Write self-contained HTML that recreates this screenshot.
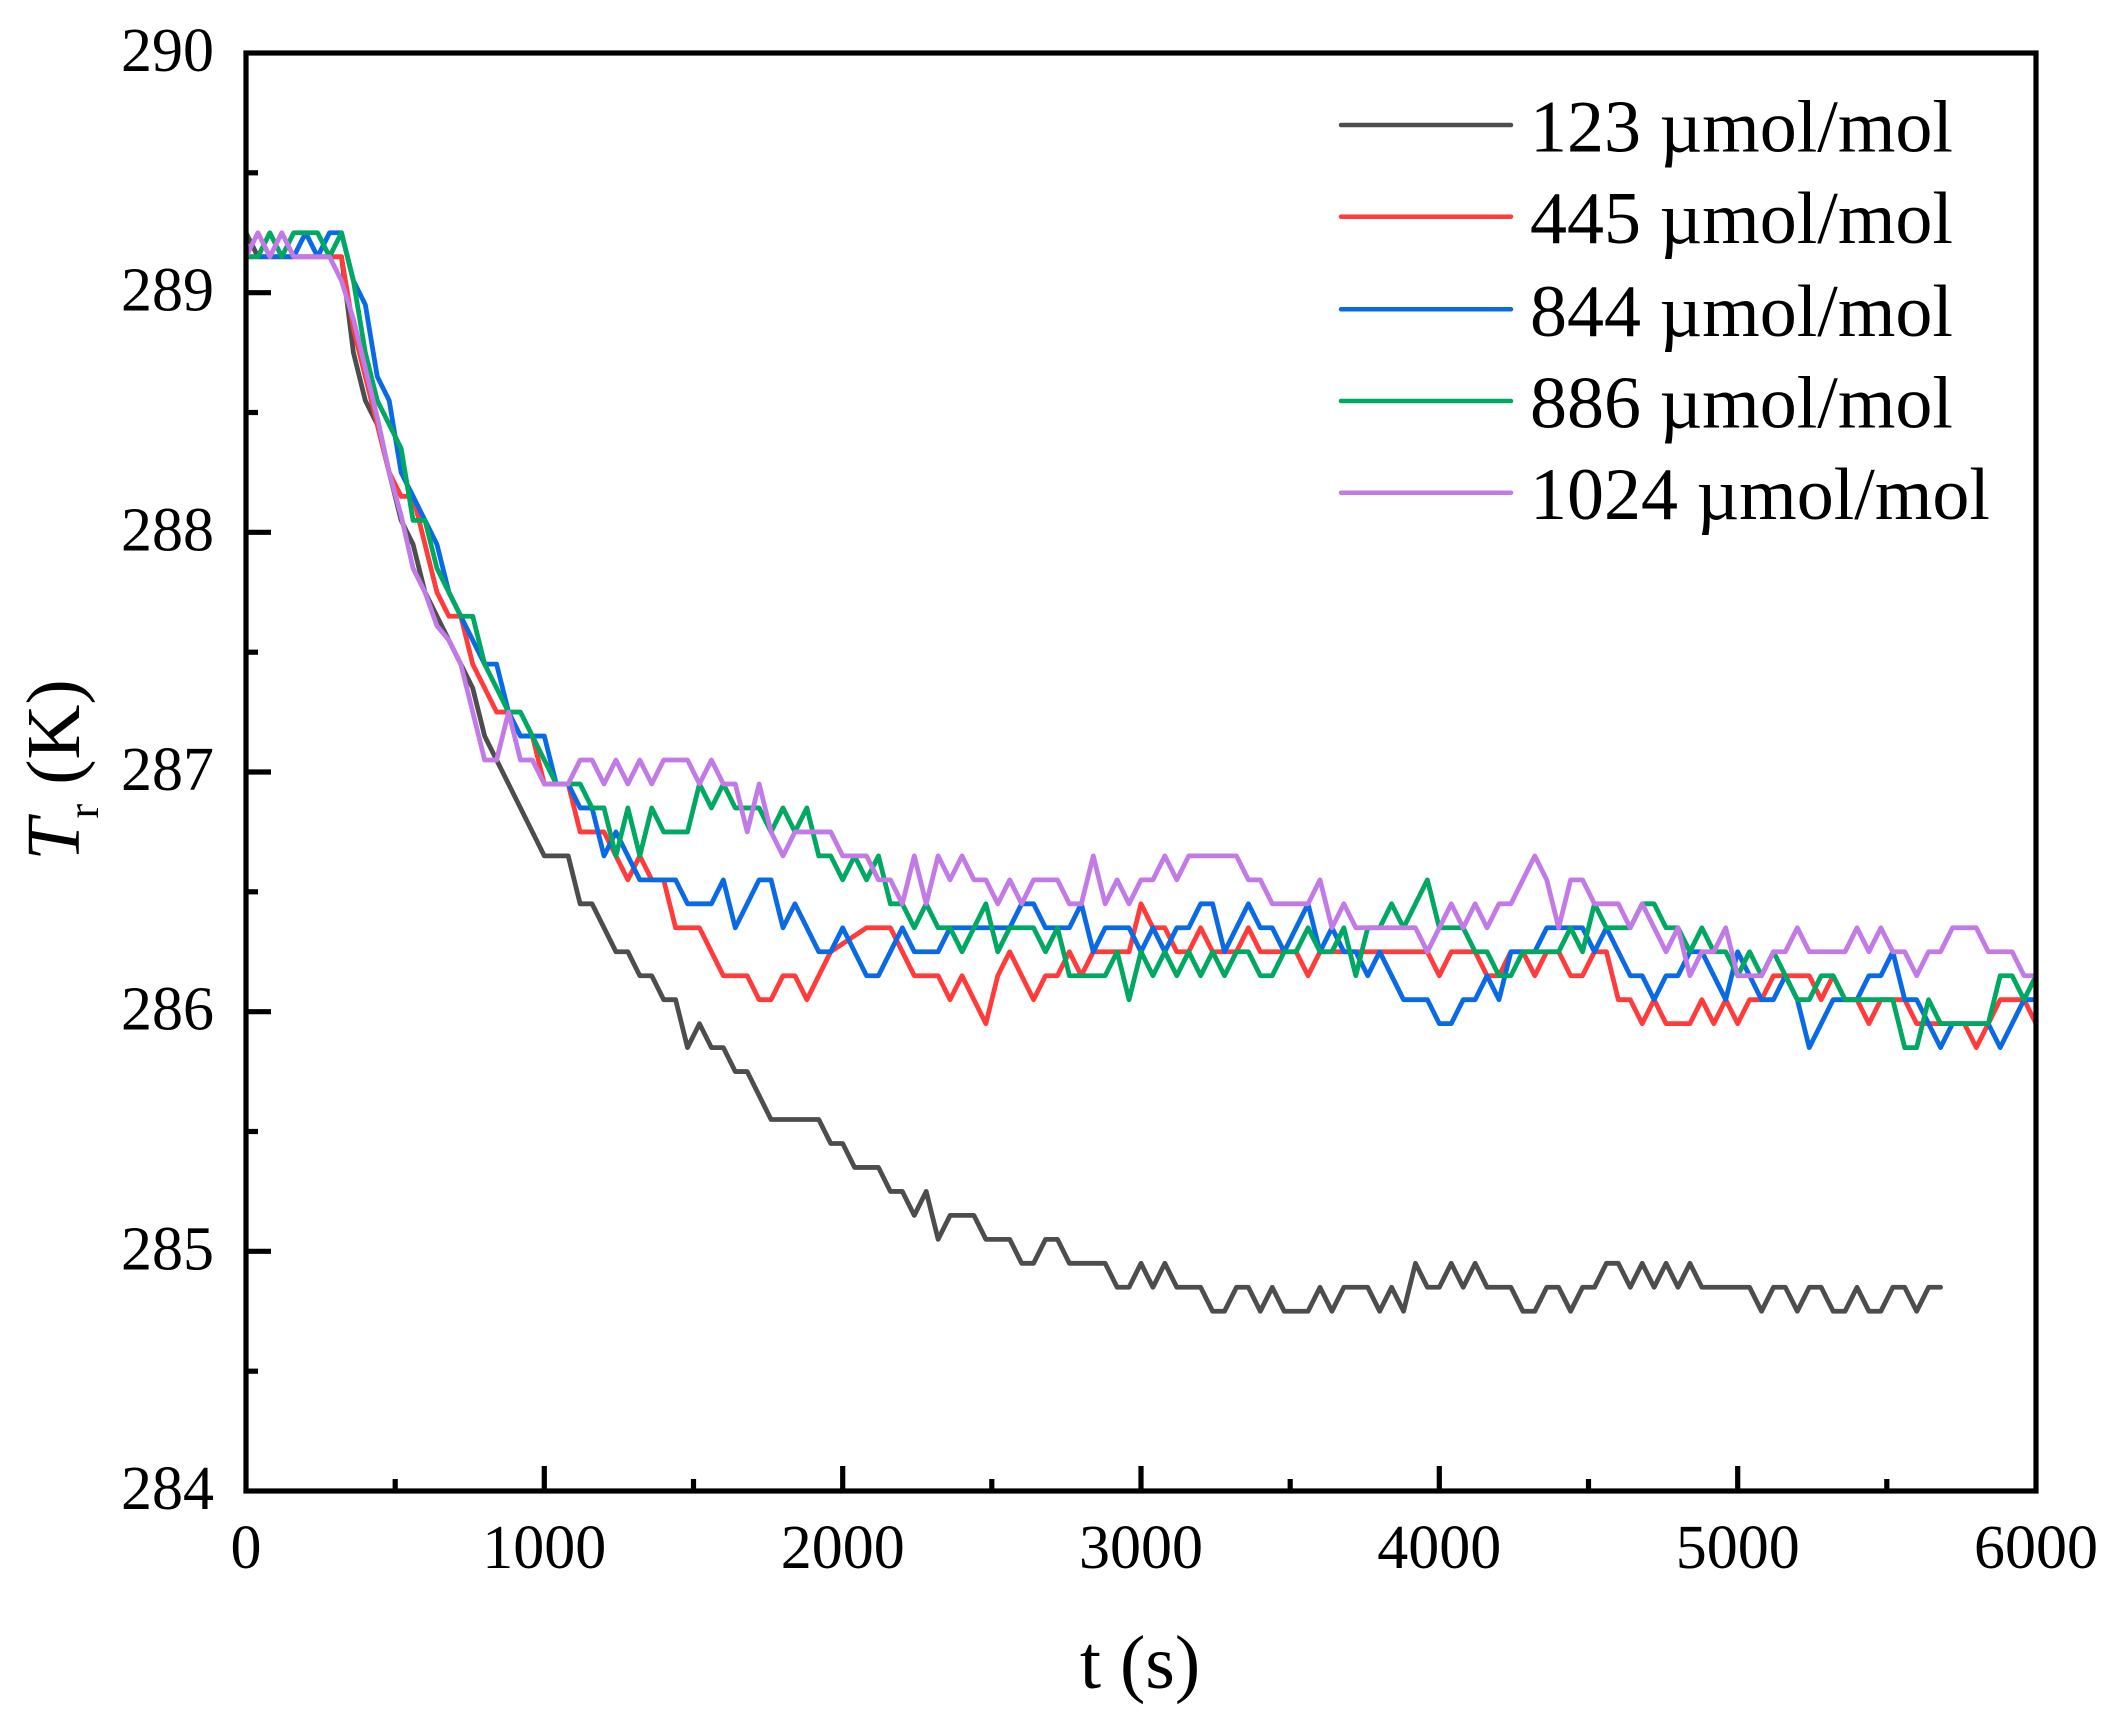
<!DOCTYPE html>
<html>
<head>
<meta charset="utf-8">
<style>
  html,body{margin:0;padding:0;background:#fff;}
  svg{display:block;}
  text{font-family:"Liberation Serif","Times New Roman",serif;fill:#000;}
</style>
</head>
<body>
<svg width="2116" height="1732" viewBox="0 0 2116 1732" xmlns="http://www.w3.org/2000/svg">
  <rect x="0" y="0" width="2116" height="1732" fill="#fff"/>
  <defs>
    <clipPath id="c"><rect x="246" y="53" width="1790" height="1438"/></clipPath>
  </defs>

  <!-- data series -->
  <g clip-path="url(#c)" fill="none" stroke-width="4.8" stroke-linejoin="round" stroke-linecap="round">
    <g transform="matrix(0.298333 0 0 -2.39667 246 1491)">
      <polyline vector-effect="non-scaling-stroke" stroke="#4d4d4d" points="0,525 40,515 320,515 360,475 400,455 440,445 480,425 520,405 560,395 600,375 640,365 680,355 720,345 760,335 800,315 840,305 1000,265 1080,265 1120,245 1160,245 1240,225 1280,225 1320,215 1360,215 1400,205 1440,205 1480,185 1520,195 1560,185 1600,185 1640,175 1680,175 1760,155 1920,155 1960,145 2000,145 2040,135 2120,135 2160,125 2200,125 2240,115 2280,125 2320,105 2360,115 2440,115 2480,105 2560,105 2600,95 2640,95 2680,105 2720,105 2760,95 2880,95 2920,85 2960,85 3000,95 3040,85 3080,95 3120,85 3200,85 3240,75 3280,75 3320,85 3360,85 3400,75 3440,85 3480,75 3560,75 3600,85 3640,75 3680,85 3760,85 3800,75 3840,85 3880,75 3920,95 3960,85 4000,85 4040,95 4080,85 4120,95 4160,85 4240,85 4280,75 4320,75 4360,85 4400,85 4440,75 4480,85 4520,85 4560,95 4600,95 4640,85 4680,95 4720,85 4760,95 4800,85 4840,95 4880,85 5040,85 5080,75 5120,85 5160,85 5200,75 5240,85 5280,85 5320,75 5360,75 5400,85 5440,75 5480,75 5520,85 5560,85 5600,75 5640,85 5680,85"/>
      <polyline vector-effect="non-scaling-stroke" stroke="#ff3b3b" points="0,515 320,515 360,485 400,465 440,445 480,425 520,415 560,415 600,395 640,375 680,365 720,365 760,345 800,335 840,325 880,325 920,315 960,315 1000,295 1080,295 1120,275 1200,275 1240,265 1280,255 1320,265 1360,255 1400,255 1440,235 1520,235 1560,225 1600,215 1680,215 1720,205 1760,205 1800,215 1840,215 1880,205 1920,215 1960,225 2080,235 2160,235 2200,225 2240,215 2320,215 2360,205 2400,215 2440,205 2480,195 2520,215 2560,225 2600,215 2640,205 2680,215 2720,215 2760,225 2800,215 2840,225 2960,225 3000,245 3040,235 3080,235 3120,225 3160,225 3200,235 3240,225 3320,225 3360,235 3400,225 3480,225 3520,225 3560,215 3600,225 3960,225 4000,215 4040,225 4120,225 4160,215 4200,215 4240,225 4280,225 4320,215 4360,225 4400,225 4440,215 4480,215 4520,225 4560,225 4600,205 4640,205 4680,195 4720,205 4760,195 4840,195 4880,205 4920,195 4960,205 5000,195 5040,205 5080,205 5120,215 5240,215 5280,205 5320,215 5360,205 5400,205 5440,195 5480,205 5560,205 5600,195 5760,195 5800,185 5840,195 5880,205 5960,205 6000,195"/>
      <polyline vector-effect="non-scaling-stroke" stroke="#0a6ae6" points="0,515 160,515 200,525 240,515 280,525 320,525 360,505 400,495 440,465 480,455 520,425 560,415 600,405 640,395 680,375 720,365 760,355 800,345 840,345 880,325 920,315 1000,315 1040,295 1080,295 1120,285 1160,285 1200,265 1240,275 1280,265 1320,255 1440,255 1480,245 1560,245 1600,255 1640,235 1720,255 1760,255 1800,235 1840,245 1920,225 1960,225 2000,235 2080,215 2120,215 2200,235 2240,225 2320,225 2360,235 2560,235 2600,245 2640,245 2680,235 2760,235 2800,245 2840,225 2880,235 2960,235 3000,225 3040,235 3080,225 3120,235 3160,235 3200,245 3240,245 3280,225 3320,235 3360,245 3400,235 3440,235 3480,225 3560,245 3600,225 3640,235 3680,225 3720,225 3760,215 3800,225 3880,205 3960,205 4000,195 4040,195 4080,205 4120,205 4160,215 4200,205 4240,225 4320,225 4360,235 4480,235 4520,225 4560,235 4640,215 4680,215 4720,205 4760,215 4800,215 4840,225 4880,225 4960,205 5000,225 5040,215 5080,205 5120,205 5160,215 5200,205 5240,185 5280,195 5320,205 5400,205 5440,215 5480,215 5520,225 5560,205 5600,205 5640,195 5680,185 5720,195 5840,195 5880,185 5920,195 5960,205 6000,205"/>
      <polyline vector-effect="non-scaling-stroke" stroke="#00a862" points="0,515 40,515 80,525 120,515 160,525 240,525 280,515 320,525 360,505 400,475 440,455 480,445 520,435 560,405 600,405 640,385 680,375 720,365 760,365 800,345 840,335 880,325 920,325 960,315 1000,305 1040,295 1120,295 1160,285 1200,285 1240,265 1280,285 1320,265 1360,285 1400,275 1480,275 1520,295 1560,285 1600,295 1640,285 1720,285 1760,275 1800,285 1840,275 1880,285 1920,265 1960,265 2000,255 2040,265 2080,255 2120,265 2160,245 2200,245 2240,235 2280,245 2320,235 2360,235 2400,225 2440,235 2480,245 2520,225 2560,235 2640,235 2680,225 2720,235 2760,215 2880,215 2920,225 2960,205 3000,225 3040,215 3080,225 3120,215 3160,225 3200,215 3240,225 3280,215 3320,225 3360,225 3400,215 3440,215 3480,225 3520,225 3560,235 3600,225 3640,225 3680,235 3720,215 3760,235 3800,235 3840,245 3880,235 3920,245 3960,255 4000,235 4080,235 4120,225 4160,225 4200,215 4240,215 4280,225 4400,225 4440,235 4480,225 4520,245 4560,235 4640,235 4680,245 4720,245 4760,235 4800,235 4840,225 4880,235 4920,225 4960,225 5000,215 5040,225 5080,215 5120,225 5160,215 5200,205 5240,205 5280,215 5320,215 5360,205 5520,205 5560,185 5600,185 5640,205 5680,195 5840,195 5880,215 5920,215 5960,205 6000,215"/>
      <polyline vector-effect="non-scaling-stroke" stroke="#c27ae6" points="0,515 40,525 80,515 120,525 160,515 280,515 320,505 360,489 440,448 480,425 520,407 560,385 600,375 640,361 680,355 720,345 760,325 800,305 840,305 880,325 920,305 960,305 1000,295 1080,295 1120,305 1160,305 1200,295 1240,305 1280,295 1320,305 1360,295 1400,305 1480,305 1520,295 1560,305 1600,295 1640,295 1680,275 1720,295 1760,275 1800,265 1840,275 1960,275 2000,265 2080,265 2120,255 2160,255 2200,245 2240,265 2280,245 2320,265 2360,255 2400,265 2440,255 2480,255 2520,245 2560,255 2600,245 2640,255 2720,255 2760,245 2800,245 2840,265 2880,245 2920,255 2960,245 3000,255 3040,255 3080,265 3120,255 3160,265 3320,265 3360,255 3400,255 3440,245 3560,245 3600,255 3640,235 3680,245 3720,235 3920,235 3960,225 4000,235 4040,245 4080,235 4120,245 4160,235 4200,245 4240,245 4280,255 4320,265 4360,255 4400,235 4440,255 4480,255 4520,245 4600,245 4640,235 4680,245 4720,235 4760,225 4800,235 4840,215 4880,225 4920,225 4960,235 5000,215 5080,215 5120,225 5160,225 5200,235 5240,225 5360,225 5400,235 5440,225 5480,235 5520,225 5560,225 5600,215 5640,225 5680,225 5720,235 5800,235 5840,225 5920,225 5960,215 6000,215"/>
    </g>
  </g>

  <!-- axes frame -->
  <rect x="246" y="53" width="1790" height="1438" fill="none" stroke="#000" stroke-width="5.2"/>

  <!-- ticks -->
  <g stroke="#000" stroke-width="5.2">
    <line x1="544.3" y1="1491" x2="544.3" y2="1466"/>
    <line x1="842.7" y1="1491" x2="842.7" y2="1466"/>
    <line x1="1141" y1="1491" x2="1141" y2="1466"/>
    <line x1="1439.3" y1="1491" x2="1439.3" y2="1466"/>
    <line x1="1737.7" y1="1491" x2="1737.7" y2="1466"/>
    <line x1="395.2" y1="1491" x2="395.2" y2="1479"/>
    <line x1="693.5" y1="1491" x2="693.5" y2="1479"/>
    <line x1="991.8" y1="1491" x2="991.8" y2="1479"/>
    <line x1="1290.2" y1="1491" x2="1290.2" y2="1479"/>
    <line x1="1588.5" y1="1491" x2="1588.5" y2="1479"/>
    <line x1="1886.8" y1="1491" x2="1886.8" y2="1479"/>
    <line x1="246" y1="1251.3" x2="271" y2="1251.3"/>
    <line x1="246" y1="1011.7" x2="271" y2="1011.7"/>
    <line x1="246" y1="772" x2="271" y2="772"/>
    <line x1="246" y1="532.3" x2="271" y2="532.3"/>
    <line x1="246" y1="292.7" x2="271" y2="292.7"/>
    <line x1="246" y1="1371.2" x2="258" y2="1371.2"/>
    <line x1="246" y1="1131.5" x2="258" y2="1131.5"/>
    <line x1="246" y1="891.8" x2="258" y2="891.8"/>
    <line x1="246" y1="652.2" x2="258" y2="652.2"/>
    <line x1="246" y1="412.5" x2="258" y2="412.5"/>
    <line x1="246" y1="172.8" x2="258" y2="172.8"/>
  </g>

  <!-- y tick labels -->
  <g font-size="62" text-anchor="end">
    <text x="214" y="1509">284</text>
    <text x="214" y="1269.3">285</text>
    <text x="214" y="1029.7">286</text>
    <text x="214" y="790">287</text>
    <text x="214" y="550.3">288</text>
    <text x="214" y="310.7">289</text>
    <text x="214" y="71">290</text>
  </g>

  <!-- x tick labels -->
  <g font-size="62" text-anchor="middle">
    <text x="246" y="1568">0</text>
    <text x="544.3" y="1568">1000</text>
    <text x="842.7" y="1568">2000</text>
    <text x="1141" y="1568">3000</text>
    <text x="1439.3" y="1568">4000</text>
    <text x="1737.7" y="1568">5000</text>
    <text x="2036" y="1568">6000</text>
  </g>

  <!-- axis titles -->
  <text x="1140" y="1688" font-size="76" text-anchor="middle">t (s)</text>
  <text transform="translate(79,770) rotate(-90)" font-size="76" text-anchor="middle"><tspan font-style="italic">T</tspan><tspan font-size="44" dy="19">r</tspan><tspan dy="-19"> (K)</tspan></text>

  <!-- legend -->
  <g stroke-width="4.5" stroke-linecap="round">
    <line x1="1341" y1="125" x2="1511" y2="125" stroke="#4d4d4d"/>
    <line x1="1341" y1="216.7" x2="1511" y2="216.7" stroke="#ff3b3b"/>
    <line x1="1341" y1="309.3" x2="1511" y2="309.3" stroke="#0a6ae6"/>
    <line x1="1341" y1="401" x2="1511" y2="401" stroke="#00a862"/>
    <line x1="1341" y1="492.7" x2="1511" y2="492.7" stroke="#c27ae6"/>
  </g>
  <g font-size="74">
    <text x="1530" y="151.5">123 µmol/mol</text>
    <text x="1530" y="243.2">445 µmol/mol</text>
    <text x="1530" y="335.8">844 µmol/mol</text>
    <text x="1530" y="427.5">886 µmol/mol</text>
    <text x="1530" y="519.2">1024 µmol/mol</text>
  </g>
</svg>
</body>
</html>
